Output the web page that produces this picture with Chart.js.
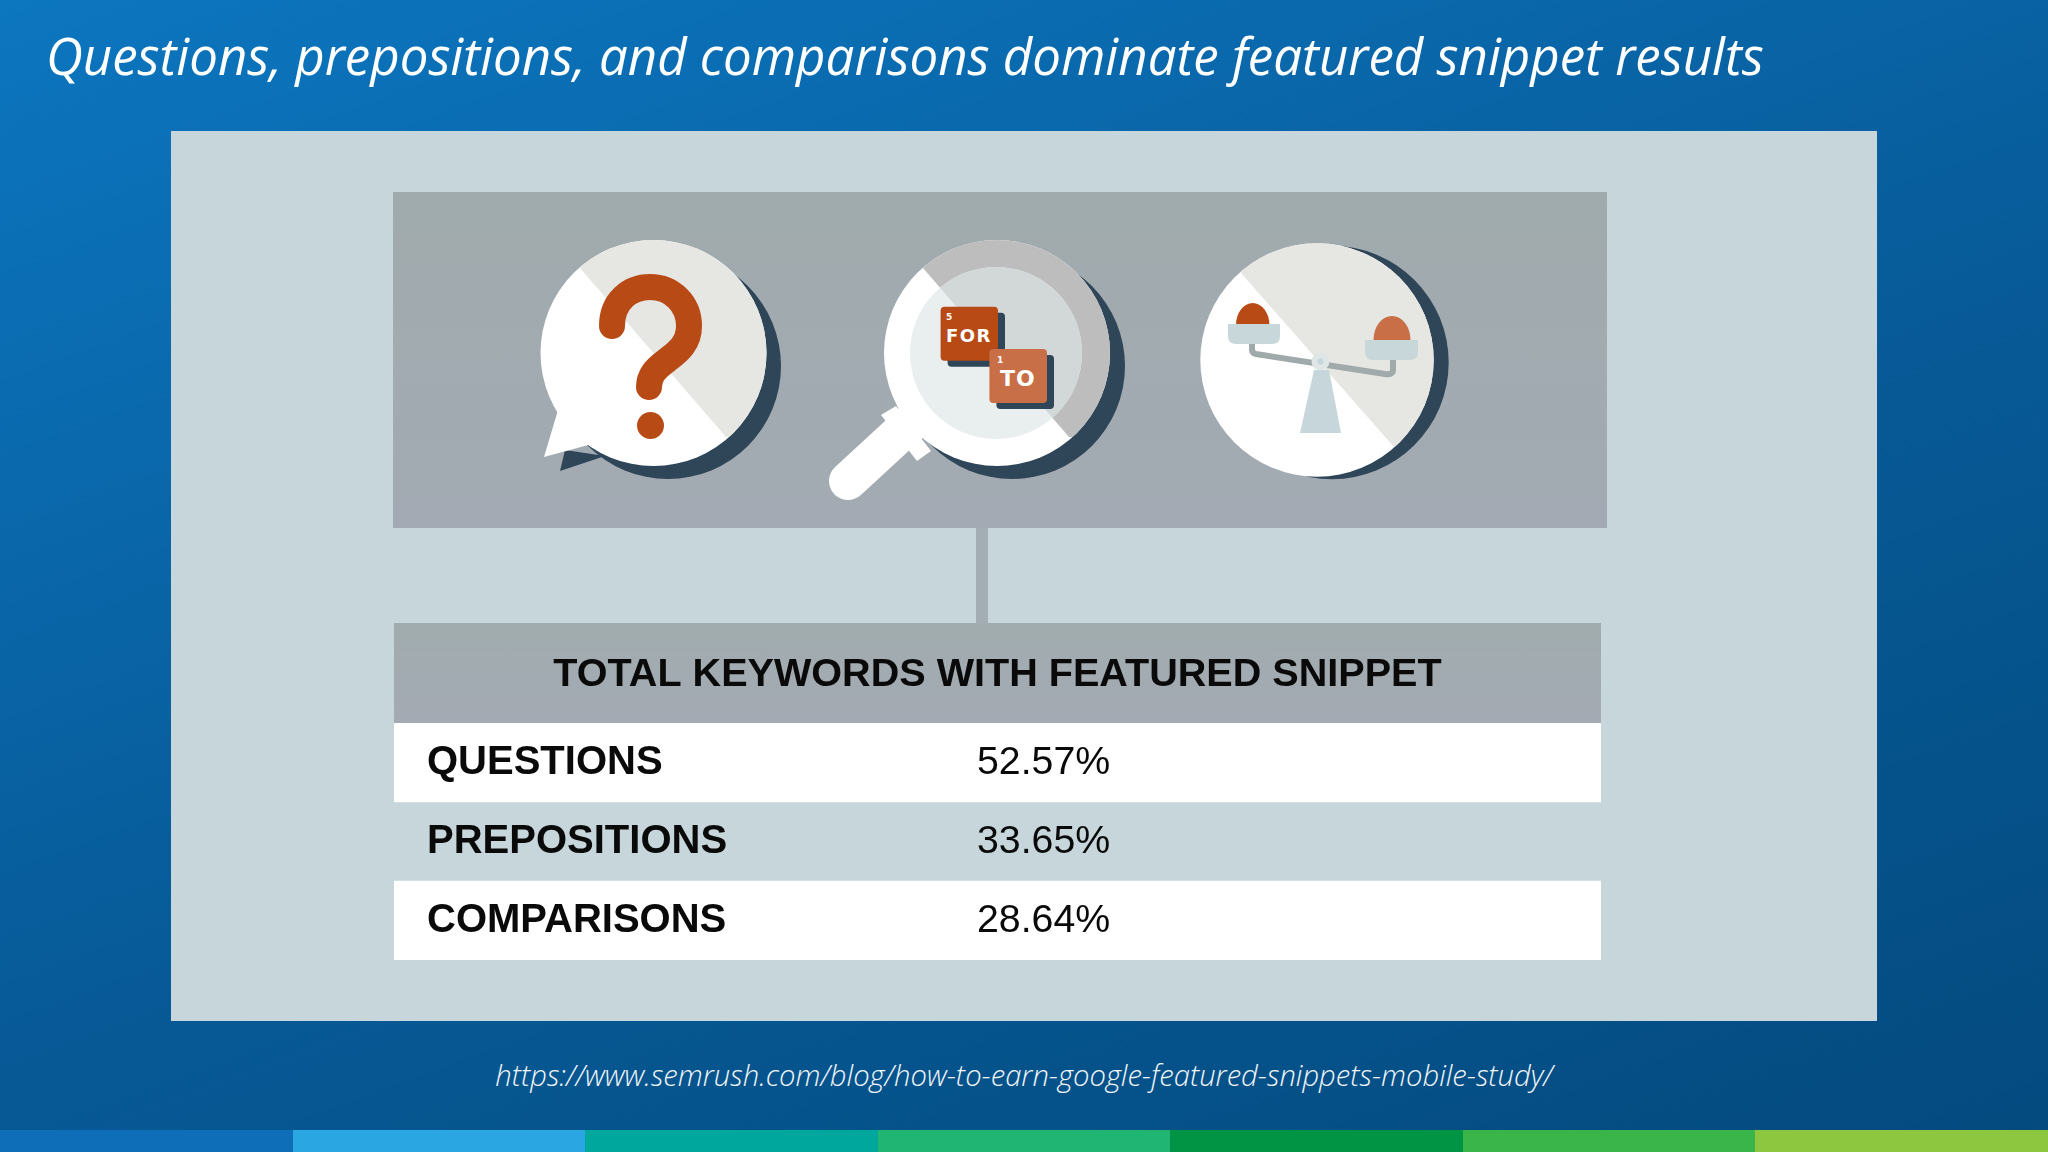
<!DOCTYPE html>
<html>
<head>
<meta charset="utf-8">
<title>Featured snippets</title>
<script src="https://cdn.jsdelivr.net/npm/chart.js@4/dist/chart.umd.min.js"></script>
<style>
html, body { margin: 0; padding: 0; }
body { width: 2048px; height: 1152px; position: relative; overflow: hidden;
  background: linear-gradient(160deg, #0c76bf 0%, #0a69ad 25%, #075a97 55%, #05528a 78%, #044a7f 100%); }
.abs { position: absolute; }
#title { left: 46px; top: 20px; font: italic 400 51px "Open Sans"; color: #fff; white-space: nowrap; }
#source { left: 0; width: 2048px; top: 1055px; text-align: center; font: italic 300 29.2px "Open Sans"; color: #f2f6f9; white-space: nowrap; }
#panel { left: 171px; top: 131px; width: 1706px; height: 890px; background: #c6d6da; }
#iconBox { left: 393px; top: 192px; width: 1214px; height: 336px; background: linear-gradient(#a0abad, #a3aab3); }
#stem { left: 976px; top: 528px; width: 12px; height: 95px; background: #a3adb3; }
#head { left: 394px; top: 623px; width: 1207px; height: 100px; background: linear-gradient(#a0acae, #a4aab3); }
#icons { left: 0; top: 0; }
#chart { left: 394px; top: 623px; }
#strip { left: 0; top: 1130px; width: 2048px; height: 22px; display: flex; }
#strip div { flex: 1; }
</style>
</head>
<body>
<div class="abs" id="title">Questions, prepositions, and comparisons dominate featured snippet results</div>
<div class="abs" id="panel"></div>
<div class="abs" id="iconBox"></div>
<div class="abs" id="stem"></div>
<div class="abs" id="head"></div>

<svg class="abs" id="icons" width="2048" height="1152" viewBox="0 0 2048 1152">
  <defs>
    <clipPath id="c1"><circle cx="653.5" cy="353" r="113"/></clipPath>
    <clipPath id="c2"><circle cx="997" cy="353" r="113"/></clipPath>
    <clipPath id="c3"><circle cx="1317" cy="360" r="116.7"/></clipPath>
    <clipPath id="lens"><circle cx="996" cy="353" r="86"/></clipPath>
  </defs>

  <!-- question bubble -->
  <circle cx="668" cy="366" r="113" fill="#2f4558"/>
  <polygon points="565,450 560,471 605,456" fill="#2f4558"/>
  <polygon points="558,410 544,457 592,444" fill="#fff"/>
  <circle cx="653.5" cy="353" r="113" fill="#fff"/>
  <polygon clip-path="url(#c1)" points="580,268 726,437 800,437 800,200 580,200" fill="#e6e6e3"/>
  <path d="M612 326 C612 301 630 287 650 287 C672 287 689 304 689 326 C689 345 676 353 666 361 C655 369 649 376 649 387" fill="none" stroke="#b84a16" stroke-width="26" stroke-linecap="round"/>
  <circle cx="650.5" cy="425.5" r="13.5" fill="#b84a16"/>

  <!-- magnifier -->
  <circle cx="1012" cy="366" r="113" fill="#2f4558"/>
  <line x1="848" y1="481" x2="925" y2="410" stroke="#fff" stroke-width="38" stroke-linecap="round"/>
  <polygon points="896,406 881,415 917,461 931,451" fill="#fff"/>
  <circle cx="997" cy="353" r="113" fill="#fff"/>
  <polygon clip-path="url(#c2)" points="923,268 1069,437 1130,437 1130,200 923,200" fill="#bdbdbd"/>
  <circle cx="996" cy="353" r="86" fill="#e9eeef"/>
  <polygon clip-path="url(#lens)" points="923,268 1069,437 1130,437 1130,200 923,200" fill="#d2d8d8"/>
  <rect x="947.6" y="312.7" width="57.4" height="54" rx="4" fill="#2f4558"/>
  <rect x="940.6" y="306.7" width="57.4" height="54" rx="4" fill="#b84a16"/>
  <text x="946" y="320" font-family="DejaVu Sans" font-weight="bold" font-size="9" fill="#fff">5</text>
  <text x="946" y="342" font-family="DejaVu Sans" font-weight="bold" font-size="18" letter-spacing="1.5" fill="#fff">FOR</text>
  <rect x="996.4" y="355" width="57.6" height="54" rx="4" fill="#2f4558"/>
  <rect x="989.4" y="349" width="57.6" height="54" rx="4" fill="#c96f47"/>
  <text x="997" y="363" font-family="DejaVu Sans" font-weight="bold" font-size="9" fill="#fff">1</text>
  <text x="1000" y="386" font-family="DejaVu Sans" font-weight="bold" font-size="22" letter-spacing="1" fill="#fff">TO</text>

  <!-- scales -->
  <circle cx="1332" cy="362.5" r="116.7" fill="#2f4558"/>
  <circle cx="1317" cy="360" r="116.7" fill="#fff"/>
  <polygon clip-path="url(#c3)" points="1241,273 1394,447 1470,447 1470,200 1241,200" fill="#e6e6e3"/>
  <path d="M1236 325 A16.7 22 0 0 1 1269.4 325 Z" fill="#b84a16"/>
  <path d="M1373.5 340 A18.5 24 0 0 1 1410.5 340 Z" fill="#c96f47"/>
  <path d="M1228 324 H1280 V336 Q1280 344 1272 344 H1236 Q1228 344 1228 336 Z" fill="#c8d8da"/>
  <path d="M1365 340 H1418 V352 Q1418 360 1410 360 H1373 Q1365 360 1365 352 Z" fill="#c8d8da"/>
  <path d="M1252 344 V350 Q1252 353 1256 354 L1385 374 Q1393 375 1393 370 V360" fill="none" stroke="#a0aaab" stroke-width="6"/>
  <polygon points="1314,370 1329,370 1341,433 1300,433" fill="#c6d6da"/>
  <circle cx="1320.5" cy="361.5" r="9" fill="#dfe6e6"/>
  <circle cx="1320.5" cy="361.5" r="3" fill="#c6d6da"/>
</svg>

<canvas class="abs" id="chart" width="1207" height="337"></canvas>

<div class="abs" id="source">https://www.semrush.com/blog/how-to-earn-google-featured-snippets-mobile-study/</div>
<div class="abs" id="strip">
  <div style="background:#0e6fb8"></div><div style="background:#2aa7e3"></div><div style="background:#00a79d"></div>
  <div style="background:#21b573"></div><div style="background:#009444"></div><div style="background:#39b54a"></div>
  <div style="background:#8dc63f"></div>
</div>

<script>
const tableTitle = 'TOTAL KEYWORDS WITH FEATURED SNIPPET';
const categories = ['QUESTIONS', 'PREPOSITIONS', 'COMPARISONS'];
const shares = [52.57, 33.65, 28.64];
const rowSpan = [[0, 100], [0, 100], [0, 100]];

const inkColor = '#0a0a0a';
const valueColumn = 48.3; // where the percent column starts on the x scale

// writes the percentages in a column, one per category row
const valueLabels = {
    id: 'valueLabels',
    afterDatasetsDraw(chart) {
        const { ctx, scales: { x, y } } = chart;
        ctx.save();
        ctx.font = '39.3px "Liberation Sans"';
        ctx.fillStyle = inkColor;
        ctx.textAlign = 'left';
        ctx.textBaseline = 'middle';
        shares.forEach((v, i) => {
            ctx.fillText(v.toFixed(2) + '%', x.getPixelForValue(valueColumn), y.getPixelForValue(i) + 1);
        });
        ctx.restore();
    }
};

new Chart(document.getElementById('chart'), {
    type: 'bar',
    data: {
        labels: categories,
        datasets: [
            { label: 'row', data: rowSpan, backgroundColor: ['#ffffff', 'rgba(255,255,255,0)', '#ffffff'], barPercentage: 1, categoryPercentage: 1, grouped: false },
            { label: 'share', data: shares, backgroundColor: 'rgba(0,0,0,0)', barPercentage: 1, categoryPercentage: 1, grouped: false }
        ]
    },
    options: {
        indexAxis: 'y',
        responsive: false,
        animation: false,
        layout: { padding: 0 },
        plugins: {
            legend: { display: false },
            tooltip: { enabled: false },
            title: {
                display: true,
                text: tableTitle,
                color: inkColor,
                font: { family: '"Liberation Sans"', size: 39.6, weight: 'bold', lineHeight: 1.2 },
                padding: { top: 28, bottom: 24.5 }
            }
        },
        scales: {
            x: { display: false, min: 0, max: 100 },
            y: {
                grid: { display: false, drawTicks: false },
                border: { display: false },
                ticks: { mirror: true, autoSkip: false, z: 1, padding: 33, color: inkColor, font: { family: '"Liberation Sans"', size: 40, weight: 'bold' } },
                // the labels sit inside the rows, so the axis takes no room of its own
                afterFit(axis) {
                    axis.width = 0;
                    axis.paddingTop = 0;
                    axis.paddingBottom = 0;
                }
            }
        }
    },
    plugins: [valueLabels]
});
</script>
</body>
</html>
